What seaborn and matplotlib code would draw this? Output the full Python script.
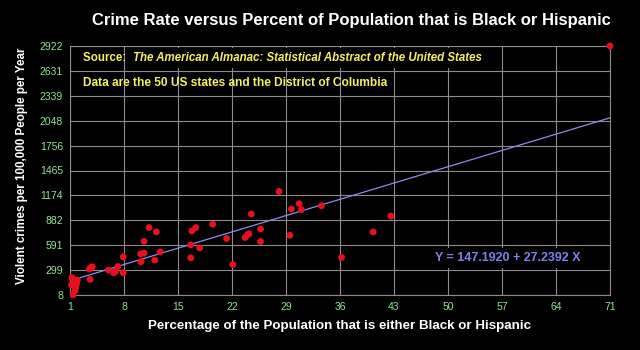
import numpy as np
import pandas as pd
import matplotlib
matplotlib.use("Agg")
import matplotlib.pyplot as plt
import seaborn as sns

# ---- data ----
pct_minority = [1.25, 1.2, 1.4, 1.95, 1.85, 1.75, 1.65, 1.5,
                3.5, 3.76, 3.9, 3.6,
                6.0, 6.66, 6.96, 7.2, 7.9, 7.9,
                10.2, 10.16, 10.6, 10.6, 11.24, 12.2, 12.0, 12.7,
                16.65, 16.65, 16.8, 17.3, 17.8, 19.5,
                21.3, 22.1, 23.7, 24.0, 24.2, 24.5, 25.7, 25.7,
                28.1, 29.5, 29.7, 30.7, 31.0, 33.6,
                36.2, 40.3, 42.6, 6.8, 71.0]
crime_rate = [210, 125, 10, 183, 140, 95, 60, 165,
              311, 331, 338, 191,
              299, 268, 291, 342, 268, 454,
              396, 489, 497, 637, 797, 746, 416, 513,
              594, 443, 757, 797, 559, 836,
              669, 366, 681, 711, 725, 956, 781, 634,
              1220, 707, 1014, 1077, 1007, 1053,
              447, 746, 932, 280, 2922]
intercept = 147.1920
slope = 27.2392
x_ticks = [1, 8, 15, 22, 29, 36, 43, 50, 57, 64, 71]
y_ticks = [8, 299, 591, 882, 1174, 1465, 1756, 2048, 2339, 2631, 2922]

title = "Crime Rate versus Percent of Population that is Black or Hispanic"
x_label = "Percentage of the Population that is either Black or Hispanic"
y_label = "Violent crimes per 100,000 People per Year"

df = pd.DataFrame({"pct": pct_minority, "crime": crime_rate})
fit_x = np.array([x_ticks[0], x_ticks[-1]], dtype=float)
fit = pd.DataFrame({"pct": fit_x, "crime": intercept + slope * fit_x})

# ---- style ----
sns.set_theme(style="dark")
plt.rcParams["font.family"] = ["Liberation Sans", "DejaVu Sans"]

grid_c = "#8c8c8c"
fig = plt.figure(figsize=(6.4, 3.5), dpi=100, facecolor="black")
ax = fig.add_axes([70 / 640, 1 - 295 / 350, 540 / 640, 249 / 350])
ax.set_facecolor("black")

ax.set_xlim(x_ticks[0], x_ticks[-1])
ax.set_ylim(y_ticks[0], y_ticks[-1])
ax.set_xticks(x_ticks)
ax.set_yticks(y_ticks)
ax.set_xticklabels([str(v) for v in x_ticks])
ax.set_yticklabels([str(v) for v in y_ticks])
ax.grid(True, color=grid_c, linewidth=0.8)
ax.set_axisbelow(True)
for s in ax.spines.values():
    s.set_color(grid_c)
    s.set_linewidth(0.8)
    s.set_visible(True)
ax.tick_params(axis="both", length=0, colors="#93e493", labelsize=7.5)
ax.tick_params(axis="x", pad=5)
ax.tick_params(axis="y", pad=5)

sns.lineplot(data=fit, x="pct", y="crime", ax=ax, color="#8c8cf0",
             linewidth=0.9, zorder=3)
sns.scatterplot(data=df, x="pct", y="crime", ax=ax, color="#e8101c",
                s=24, edgecolor="none", zorder=4, clip_on=False)

ax.set_xlabel("")
ax.set_ylabel("")

fig.text(351 / 640, 1 - 20 / 350, title, ha="center", va="center",
         color="white", fontsize=12.0, fontweight="bold")
fig.text(340 / 640, 1 - 326 / 350, x_label, ha="center", va="center",
         color="white", fontsize=9.6, fontweight="bold")
fig.text(22 / 640, 1 - 166 / 350, y_label, ha="center", va="center",
         rotation=90, color="white", fontsize=8.4, fontweight="bold")

# annotations
t1 = fig.text(83 / 640, 1 - 58 / 350, "Source:  ", ha="left", va="center",
              color="#f5f060", fontsize=8.3, fontweight="bold")
fig.canvas.draw()
bb = t1.get_window_extent()
fig.text(bb.x1 / 640, 1 - 58 / 350,
         "The American Almanac: Statistical Abstract of the United States",
         ha="left", va="center", color="#f5f060", fontsize=8.3,
         fontweight="bold", style="italic",
         bbox=dict(facecolor="black", edgecolor="none", pad=3))
fig.text(83 / 640, 1 - 83 / 350, "Data are the 50 US states and the District of Columbia",
         ha="left", va="center", color="#f5f060", fontsize=8.6, fontweight="bold")
fig.text(508 / 640, 1 - 258 / 350, "Y = 147.1920 + 27.2392 X",
         ha="center", va="center", color="#8080f0", fontsize=9, fontweight="bold",
         bbox=dict(facecolor="black", edgecolor="none", pad=3))

fig.savefig("out.png", dpi=100, facecolor="black")
